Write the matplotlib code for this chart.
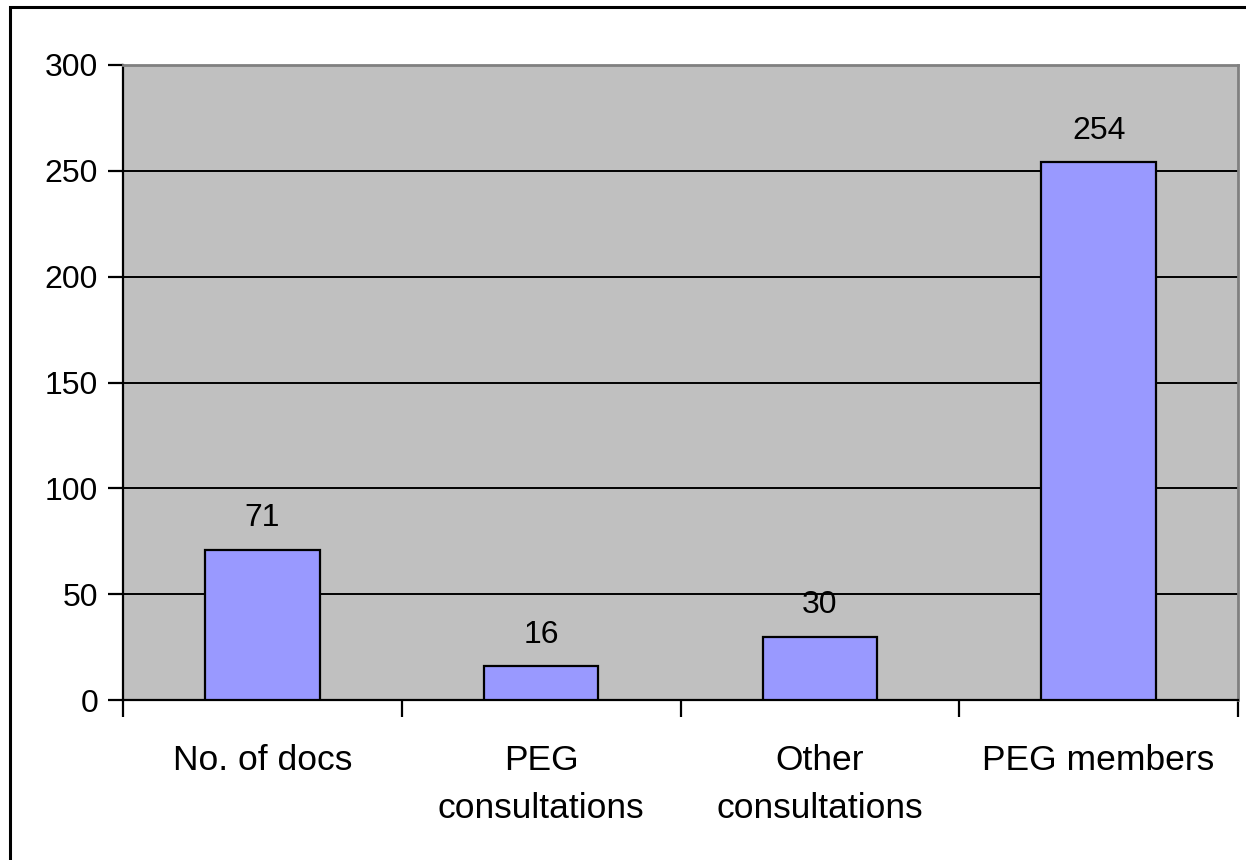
import matplotlib
matplotlib.use("Agg")
import matplotlib.pyplot as plt
from matplotlib.patches import Rectangle

categories = ["No. of docs", "PEG\nconsultations", "Other\nconsultations", "PEG members"]
values = [71, 16, 30, 254]
yticks = [0, 50, 100, 150, 200, 250, 300]

plt.rcParams['font.family'] = ['Liberation Sans', 'DejaVu Sans']

W, H = 1246, 860
fig = plt.figure(figsize=(W / 100, H / 100), dpi=100)
fig.patch.set_facecolor('white')

# outer chart border
fig.add_artist(Rectangle((10 / W, -0.05), 1.1, (H - 7) / H + 0.05, transform=fig.transFigure,
                         fill=False, edgecolor='black', linewidth=2.2, zorder=0))

left, right, top, bottom = 123, 1238, 65, 700
ax = fig.add_axes([left / W, 1 - bottom / H, (right - left) / W, (bottom - top) / H])
ax.set_facecolor('#C0C0C0')

x = list(range(len(categories)))
ax.bar(x, values, width=0.41, color='#9999FF', edgecolor='black', linewidth=1.6, zorder=3)
for xi, v in zip(x, values):
    ax.annotate(str(v), (xi, v), xytext=(0, 17), textcoords='offset points',
                ha='center', va='baseline', fontsize=23, color='black', zorder=4)

ax.set_xlim(-0.5, len(categories) - 0.5)
ax.set_ylim(0, 300)
ax.set_yticks(yticks)
ax.set_yticklabels([str(t) for t in yticks], fontsize=23)
ax.yaxis.grid(True, color='black', linewidth=1.4, zorder=1)
ax.set_axisbelow(True)

ax.set_xticks(x)
ax.set_xticklabels(categories, fontsize=25.5, linespacing=1.55)
ax.set_xticks([i + 0.5 for i in range(-1, len(categories))], minor=True)
ax.tick_params(axis='x', which='major', length=0, pad=32)
ax.tick_params(axis='x', which='minor', length=12, width=1.6, direction='out', color='black')
ax.tick_params(axis='y', length=11, width=1.6, direction='out', pad=7, color='black')
for lbl in ax.get_xticklabels():
    lbl.set_verticalalignment('top')

for s in ['left', 'bottom']:
    ax.spines[s].set_color('black')
    ax.spines[s].set_linewidth(1.6)
for s in ['top', 'right']:
    ax.spines[s].set_color('#808080')
    ax.spines[s].set_linewidth(2)

fig.savefig('out.png', dpi=100)
